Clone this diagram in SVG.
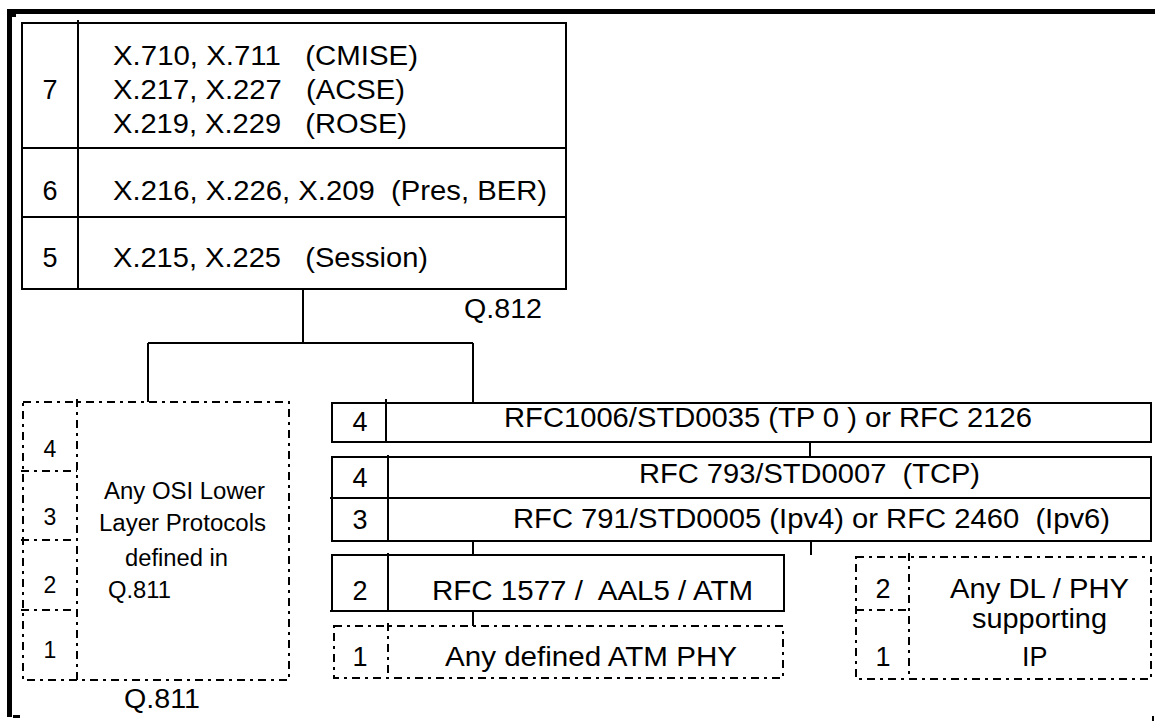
<svg xmlns="http://www.w3.org/2000/svg" width="1155" height="721" viewBox="0 0 1155 721" xml:space="preserve">
<style>
 .t{font-family:"Liberation Sans",Arial,sans-serif;font-size:27px;fill:#000;white-space:pre}
 .s{font-size:23px}
 .m{text-anchor:middle}
 .solid{fill:none;stroke:#000;stroke-width:2}
 .dash{fill:none;stroke:#000;stroke-width:2;stroke-dasharray:8 5 3 5}
 .conn{fill:none;stroke:#000;stroke-width:2}
 .frame{fill:none;stroke:#000;stroke-width:5}
</style>
<rect width="1155" height="721" fill="#fff"/>
<g id="frame">
 <path class="frame" d="M9.5,717 V11.5 H1155"/>
 <rect x="12" y="14" width="4" height="3"/>
 <rect x="13" y="715" width="7" height="3"/>
 <rect x="1152" y="716" width="2" height="5"/>
</g>
<g id="connectors">
 <path class="conn" d="M303,289 V343 M148,343 H473 M148,343 V402 M473,343 V403 M810,442 V457 M473,541 V555 M811,541 V555 M473,611 V626"/>
</g>
<g id="q812">
 <rect class="solid" x="22" y="23" width="544" height="266"/>
 <path class="solid" d="M78,20 V289 M22,148 H566 M22,217 H566"/>
 <text class="t m" x="50" y="99">7</text>
 <text class="t" x="113" y="65" textLength="305" lengthAdjust="spacingAndGlyphs">X.710, X.711   (CMISE)</text>
 <text class="t" x="113" y="99" textLength="292" lengthAdjust="spacingAndGlyphs">X.217, X.227   (ACSE)</text>
 <text class="t" x="113" y="133" textLength="294" lengthAdjust="spacingAndGlyphs">X.219, X.229   (ROSE)</text>
 <text class="t m" x="50" y="200">6</text>
 <text class="t" x="113" y="200" textLength="434" lengthAdjust="spacingAndGlyphs">X.216, X.226, X.209  (Pres, BER)</text>
 <text class="t m" x="50" y="267">5</text>
 <text class="t" x="113" y="267" textLength="315" lengthAdjust="spacingAndGlyphs">X.215, X.225   (Session)</text>
 <text class="t" x="464" y="318" textLength="78" lengthAdjust="spacingAndGlyphs">Q.812</text>
</g>
<g id="q811">
 <rect class="dash" x="23" y="402" width="266" height="278"/>
 <path class="dash" d="M77,399 V680 M21,471 H77 M21,540 H77 M21,610 H77"/>
 <text class="t s m" x="50" y="457">4</text>
 <text class="t s m" x="50" y="525">3</text>
 <text class="t s m" x="50" y="593">2</text>
 <text class="t s m" x="50" y="658">1</text>
 <text class="t s" x="104" y="499" textLength="161" lengthAdjust="spacingAndGlyphs">Any OSI Lower</text>
 <text class="t s" x="99" y="531" textLength="167" lengthAdjust="spacingAndGlyphs">Layer Protocols</text>
 <text class="t s" x="125" y="566" textLength="103" lengthAdjust="spacingAndGlyphs">defined in</text>
 <text class="t s" x="108" y="598" textLength="63" lengthAdjust="spacingAndGlyphs">Q.811</text>
 <text class="t" x="124" y="708" textLength="76" lengthAdjust="spacingAndGlyphs">Q.811</text>
</g>
<g id="tp0">
 <rect class="solid" x="332" y="403" width="819" height="39"/>
 <path class="solid" d="M386,399 V442"/>
 <text class="t m" x="360" y="431">4</text>
 <text class="t" x="504" y="427" textLength="528" lengthAdjust="spacingAndGlyphs">RFC1006/STD0035 (TP 0 ) or RFC 2126</text>
</g>
<g id="tcpip">
 <rect class="solid" x="332" y="457" width="819" height="84"/>
 <path class="solid" d="M330,498 H1151 M388,455 V541"/>
 <text class="t m" x="360" y="487">4</text>
 <text class="t m" x="360" y="529">3</text>
 <text class="t" x="639" y="483" textLength="341" lengthAdjust="spacingAndGlyphs">RFC 793/STD0007  (TCP)</text>
 <text class="t" x="513" y="528" textLength="597" lengthAdjust="spacingAndGlyphs">RFC 791/STD0005 (Ipv4) or RFC 2460  (Ipv6)</text>
</g>
<g id="aal5">
 <rect class="solid" x="332" y="555" width="452" height="56"/>
 <path class="solid" d="M330,611 H340 M388,553 V611"/>
 <text class="t m" x="360" y="600">2</text>
 <text class="t" x="432" y="600" textLength="321" lengthAdjust="spacingAndGlyphs">RFC 1577 /  AAL5 / ATM</text>
</g>
<g id="atmphy">
 <rect class="dash" x="334" y="626" width="449" height="52"/>
 <path class="dash" d="M388,623 V678"/>
 <text class="t m" x="360" y="666">1</text>
 <text class="t" x="445" y="666" textLength="292" lengthAdjust="spacingAndGlyphs">Any defined ATM PHY</text>
</g>
<g id="dlphy">
 <rect class="dash" x="856" y="557" width="295" height="122"/>
 <path class="dash" d="M909,553 V679 M856,610 H909"/>
 <text class="t m" x="883" y="598">2</text>
 <text class="t m" x="883" y="666">1</text>
 <text class="t" x="950" y="598" textLength="179" lengthAdjust="spacingAndGlyphs">Any DL / PHY</text>
 <text class="t" x="972" y="628" textLength="135" lengthAdjust="spacingAndGlyphs">supporting</text>
 <text class="t" x="1022" y="666">IP</text>
</g>
</svg>
